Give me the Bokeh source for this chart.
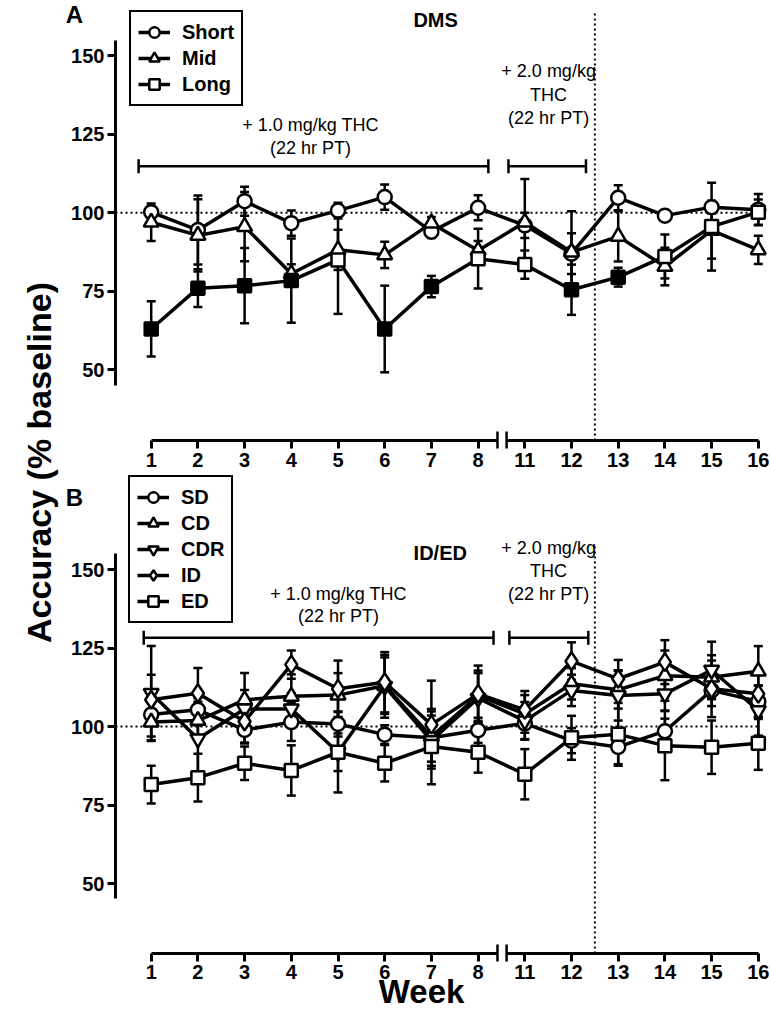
import math
from bokeh.plotting import figure
from bokeh.models import (Range1d, LinearAxis, FixedTicker, ColumnDataSource, Whisker,
                          TeeHead, Label, Legend, LegendItem)
from bokeh.embed import file_html
from bokeh.resources import INLINE

# ---------------- data ----------------
weeks = ["1", "2", "3", "4", "5", "6", "7", "8", "11", "12", "13", "14", "15", "16"]
y_ticks = [50, 75, 100, 125, 150]

# Panel A: DMS
dms_short = [100.2, 94.5, 103.7, 96.7, 100.7, 105.0, 94.0, 101.6, 96.0, 87.0, 104.8, 99.1, 101.8, 101.0]
dms_short_err = [2.0, 11.0, 4.6, 4.0, 2.5, 4.0, 2.0, 4.0, 4.0, 6.5, 4.0, 1.5, 2.0, 5.0]
dms_mid = [97.0, 92.8, 95.6, 80.6, 88.2, 86.6, 96.7, 88.0, 97.0, 87.5, 92.5, 82.9, 94.4, 88.2]
dms_mid_err = [6.0, 11.5, 11.0, 3.0, 6.4, 4.2, 2.0, 3.0, 13.8, 13.0, 8.0, 6.0, 9.0, 4.5]
dms_long = [63.0, 76.0, 76.8, 78.4, 85.0, 63.0, 76.5, 85.4, 83.5, 75.5, 79.5, 86.1, 95.6, 100.2]
dms_long_err = [8.8, 6.0, 12.0, 13.4, 17.2, 13.8, 3.4, 9.5, 4.5, 8.0, 3.0, 7.0, 14.0, 4.0]
dms_long_sig = [1, 1, 1, 1, 0, 1, 1, 0, 0, 1, 1, 0, 0, 0]

# Panel B: ID/ED
sd = [103.8, 105.3, 98.9, 101.4, 100.8, 97.4, 96.4, 98.8, 101.0, 95.5, 93.5, 98.5, 111.5, 108.0]
sd_err = [7.0, 5.0, 4.0, 6.0, 4.0, 3.0, 4.0, 4.0, 5.0, 4.0, 5.5, 4.0, 5.0, 5.0]
cd = [101.4, 101.9, 108.5, 109.6, 110.0, 113.0, 96.8, 109.8, 104.0, 113.6, 111.7, 116.2, 115.7, 117.6]
cd_err = [6.0, 6.0, 8.5, 7.0, 7.0, 9.0, 8.0, 8.0, 6.0, 5.0, 6.0, 8.0, 7.0, 8.0]
cdr = [110.6, 96.1, 105.6, 105.6, 91.8, 112.8, 95.5, 109.0, 101.8, 111.5, 109.9, 110.4, 118.0, 105.1]
cdr_err = [15.0, 13.0, 6.0, 5.0, 6.0, 10.0, 8.0, 8.0, 6.0, 5.0, 8.0, 5.3, 9.0, 8.0]
idd = [108.5, 110.6, 101.6, 119.7, 112.0, 114.1, 100.6, 110.4, 105.3, 120.8, 115.2, 120.5, 112.0, 110.4]
idd_err = [8.0, 8.0, 7.0, 4.5, 9.0, 9.6, 14.0, 9.0, 6.0, 6.0, 6.0, 7.0, 9.0, 8.0]
ed = [81.5, 83.7, 88.3, 86.0, 91.8, 88.3, 93.6, 91.8, 84.8, 96.4, 97.5, 93.9, 93.4, 94.7]
ed_err = [6.0, 7.6, 5.3, 8.0, 12.8, 5.8, 12.0, 6.5, 8.0, 7.0, 10.0, 11.0, 8.5, 8.5]

# ---------------- geometry ----------------
FONT = "Liberation Sans"
W, H = 770, 1010
X0, DX = 150.7, 46.7          # canvas x of first week, px per week slot
YA, YB, PPU = 212.3, 726.0, 3.14
AXIS_X = -0.765               # y-axis position (week-slot units)
BREAK = (7.415, 7.61)
DOSE_LINE = 9.5


def ix(px):
    return (px - X0) / DX


def va(py):
    return 100 + (YA - py) / PPU


def vb(py):
    return 100 + (YB - py) / PPU


xs = list(range(len(weeks)))

p = figure(width=W, height=H, output_backend="svg", toolbar_location=None,
           x_axis_type=None, y_axis_type=None, min_border=0,
           x_range=Range1d(ix(0), ix(W)),
           y_range=Range1d(va(H), va(0)))
p.extra_y_ranges = {"B": Range1d(vb(H), vb(0))}
p.outline_line_color = None
p.background_fill_color = "white"
p.border_fill_color = "white"


def style_axis(ax):
    ax.axis_line_width = 3
    ax.axis_line_color = "black"
    ax.major_tick_line_width = 3
    ax.major_tick_line_color = "black"
    ax.major_tick_in = 0
    ax.major_tick_out = 8
    ax.minor_tick_line_color = None
    ax.major_label_text_font = FONT
    ax.major_label_text_font_style = "bold"
    ax.major_label_text_font_size = "20px"
    ax.major_label_text_color = "black"


panels = (("default", va, 40, 385, 440, 4), ("B", vb, 553, 898, 953, 3))
for rng, f, ytop, ybot, xaxis_py, stand in panels:
    ya = LinearAxis(y_range_name=rng, fixed_location=AXIS_X, bounds=(f(ybot), f(ytop)),
                    ticker=FixedTicker(ticks=y_ticks, minor_ticks=[]), major_label_standoff=3)
    style_axis(ya)
    p.add_layout(ya, "left")
    for tk, bnd in ((xs[:8], (0, BREAK[0])), (xs[8:], (BREAK[1], xs[-1]))):
        xa = LinearAxis(y_range_name=rng, fixed_location=f(xaxis_py), bounds=bnd,
                        ticker=FixedTicker(ticks=tk, minor_ticks=[]),
                        major_label_overrides={i: weeks[i] for i in tk},
                        major_label_standoff=stand)
        style_axis(xa)
        p.add_layout(xa, "below")
    # axis break marks
    p.segment(x0=list(BREAK), x1=list(BREAK), y0=[f(xaxis_py - 9)] * 2, y1=[f(xaxis_py + 8)] * 2,
              y_range_name=rng, line_color="black", line_width=2.5)
    # reference line at baseline (100 %)
    p.segment(x0=[AXIS_X], x1=[xs[-1]], y0=[100], y1=[100], y_range_name=rng,
              line_color="black", line_width=2, line_dash="2 3")

p.segment(x0=[DOSE_LINE], x1=[DOSE_LINE], y0=[va(440)], y1=[va(10)],
          line_color="black", line_width=2, line_dash="2 3")
p.segment(x0=[DOSE_LINE], x1=[DOSE_LINE], y0=[vb(953)], y1=[vb(545)], y_range_name="B",
          line_color="black", line_width=2, line_dash="2 3")


def series(ys, es, marker, size, rng, fills=None):
    fills = fills or ["white"] * len(ys)
    src = ColumnDataSource(dict(x=xs, y=ys,
                                lo=[y - e for y, e in zip(ys, es)],
                                hi=[y + e for y, e in zip(ys, es)],
                                fill=fills))
    wk = Whisker(base="x", lower="lo", upper="hi", source=src, dimension="height",
                 y_range_name=rng, level="underlay", line_width=2.5, line_color="black",
                 upper_head=TeeHead(size=9, line_width=2.5, line_color="black"),
                 lower_head=TeeHead(size=9, line_width=2.5, line_color="black"))
    p.add_layout(wk)
    ln = p.line("x", "y", source=src, y_range_name=rng, line_width=3.5,
                line_color="black", line_join="round")
    sc = p.scatter("x", "y", source=src, y_range_name=rng, marker=marker, size=size,
                   fill_color="fill", line_color="black", line_width=2.5)
    return [ln, sc]


r_short = series(dms_short, dms_short_err, "circle", 14, "default")
r_mid = series(dms_mid, dms_mid_err, "triangle", 15, "default")
r_long = series(dms_long, dms_long_err, "square", 13, "default",
                ["black" if s else "white" for s in dms_long_sig])

r_sd = series(sd, sd_err, "circle", 14, "B")
r_cd = series(cd, cd_err, "triangle", 15, "B")
r_cdr = series(cdr, cdr_err, "inverted_triangle", 15, "B")
r_id = series(idd, idd_err, "diamond", 18, "B")
r_ed = series(ed, ed_err, "square", 13, "B")


def add_legend(items, loc, spacing):
    lg = Legend(items=items, location=loc, orientation="vertical",
                border_line_color="black", border_line_width=2.5, border_line_alpha=1.0,
                background_fill_color="white", background_fill_alpha=1.0,
                padding=7, spacing=spacing, margin=0,
                label_text_font=FONT, label_text_font_style="bold",
                label_text_font_size="20px", label_text_color="black",
                glyph_width=32, glyph_height=26, label_height=26, label_standoff=12)
    p.add_layout(lg)


add_legend([LegendItem(label="Short", renderers=r_short),
            LegendItem(label="Mid", renderers=r_mid),
            LegendItem(label="Long", renderers=r_long, index=4)], (129, H - 106), 0)
add_legend([LegendItem(label="SD", renderers=r_sd),
            LegendItem(label="CD", renderers=r_cd),
            LegendItem(label="CDR", renderers=r_cdr),
            LegendItem(label="ID", renderers=r_id),
            LegendItem(label="ED", renderers=r_ed)], (128, H - 623), 0)


def label(text, x, y, size, bold=False, rng="default", x_units="data", y_units="data",
          angle=0.0, baseline="middle"):
    p.add_layout(Label(text=text, x=x, y=y, x_units=x_units, y_units=y_units,
                       y_range_name=rng, text_font=FONT, text_font_size=f"{size}px",
                       text_font_style="bold" if bold else "normal", text_color="black",
                       text_align="center", text_baseline=baseline, angle=angle))


# brackets (treatment periods), in week-slot units
brackets_a = [(-0.27, 7.22), (7.65, 9.31)]
brackets_b = [(-0.16, 7.33), (7.67, 9.36)]
for rng, f, br, by in (("default", va, brackets_a, 165.7), ("B", vb, brackets_b, 637.3)):
    for x0, x1 in br:
        p.segment(x0=[x0], x1=[x1], y0=[f(by)], y1=[f(by)], y_range_name=rng,
                  line_color="black", line_width=2.5)
        p.segment(x0=[x0, x1], x1=[x0, x1], y0=[f(by - 7)] * 2, y1=[f(by + 7)] * 2,
                  y_range_name=rng, line_color="black", line_width=2.5)

# panel A texts
label("DMS", 6.09, va(19), 20, bold=True)
label("+ 1.0 mg/kg THC", 3.41, va(124), 18)
label("(22 hr PT)", 3.41, va(147), 18)
label("+ 2.0 mg/kg", 8.51, va(70), 18)
label("THC", 8.51, va(94), 18)
label("(22 hr PT)", 8.51, va(117), 18)

# panel B texts
label("ID/ED", 6.19, vb(552), 20, bold=True, rng="B")
label("+ 1.0 mg/kg THC", 4.01, vb(593), 18, rng="B")
label("(22 hr PT)", 4.01, vb(615), 18, rng="B")
label("+ 2.0 mg/kg", 8.51, vb(547), 18, rng="B")
label("THC", 8.51, vb(570), 18, rng="B")
label("(22 hr PT)", 8.51, vb(593), 18, rng="B")

# panel letters & titles (screen units: x from left, y from bottom)
label("A", 74, H - 14, 24, bold=True, x_units="screen", y_units="screen")
label("B", 74, H - 497, 24, bold=True, x_units="screen", y_units="screen")
label("Accuracy (% baseline)", 38, H - 462, 34, bold=True, x_units="screen", y_units="screen",
      angle=math.pi / 2)
label("Week", 5.79, 1, 33, bold=True, y_units="screen", baseline="bottom")

open("out.html", "w").write(file_html(p, INLINE))
